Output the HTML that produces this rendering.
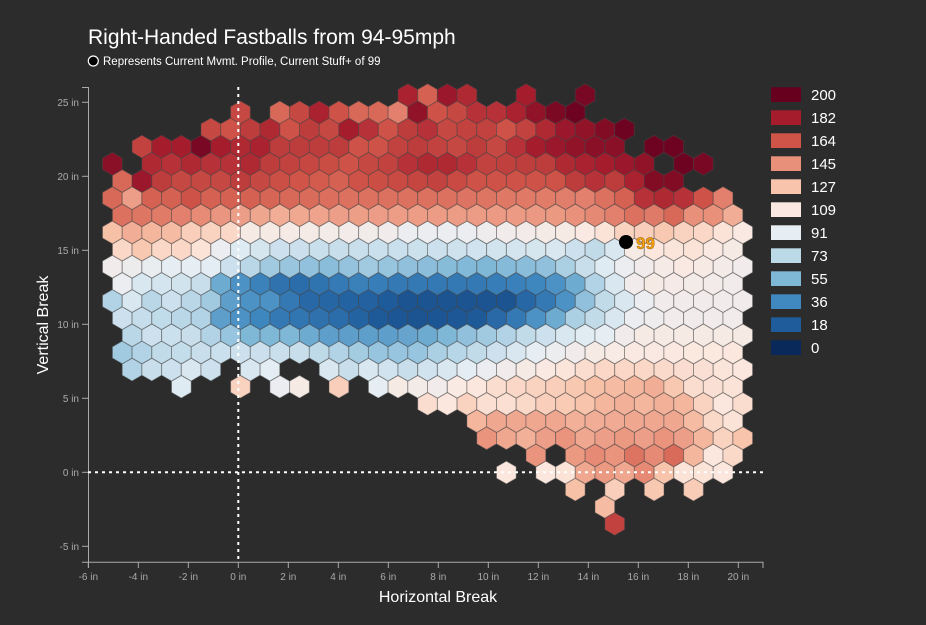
<!DOCTYPE html>
<html><head><meta charset="utf-8"><style>
html,body{margin:0;padding:0;background:#2c2c2c;}
svg{display:block;font-family:"Liberation Sans",Arial,sans-serif;}
</style></head><body>
<svg id="s" width="926" height="625" viewBox="0 0 926 625" xmlns="http://www.w3.org/2000/svg">
<rect width="926" height="625" fill="#2c2c2c"/>
<g id="hex"></g>
<g id="axes" fill="#aaaaaa" font-size="10"></g>
<line x1="238.3" y1="87" x2="238.3" y2="562" stroke="#fff" stroke-width="2" stroke-dasharray="3,4"/>
<line x1="88" y1="472.3" x2="763" y2="472.3" stroke="#fff" stroke-width="2" stroke-dasharray="3,4"/>
<text x="88" y="44" fill="#fff" font-size="21">Right-Handed Fastballs from 94-95mph</text>
<circle cx="93.3" cy="61" r="5" fill="#000" stroke="#fff" stroke-width="1.2"/>
<text x="103" y="65" fill="#fff" font-size="11.5">Represents Current Mvmt. Profile, Current Stuff+ of 99</text>
<text x="438" y="602" fill="#fff" font-size="16" text-anchor="middle">Horizontal Break</text>
<text transform="translate(48,325) rotate(-90)" fill="#fff" font-size="16" text-anchor="middle">Vertical Break</text>
<g id="legend"></g>
<circle cx="626" cy="242" r="7" fill="#000"/>
<text x="636" y="249" fill="#f5a00f" font-size="17" font-weight="bold" stroke="#8a5a00" stroke-width="0.4">99</text>
</svg>
<script>
var stops=[[0,"#08295a"],[18,"#1f5c9c"],[36,"#3f88c0"],[55,"#7fb7d7"],[73,"#bcd9e8"],[91,"#e6eef4"],[109,"#fbe9e1"],[127,"#f8c4ab"],[145,"#e9907a"],[164,"#d05548"],[182,"#a51c2d"],[200,"#67001f"]];
function hx(h){return [parseInt(h.substr(1,2),16),parseInt(h.substr(3,2),16),parseInt(h.substr(5,2),16)];}
function col(v){if(v<=0)return stops[0][1];if(v>=200)return stops[11][1];
for(var i=0;i<11;i++){if(v<=stops[i+1][0]){var t=(v-stops[i][0])/(stops[i+1][0]-stops[i][0]);var a=hx(stops[i][1]),b=hx(stops[i+1][1]);
return "rgb("+a.map(function(x,k){return Math.round(x+(b[k]-x)*t)}).join(",")+")";}}}
var R={
22:[[[8,11],[14,14],[17,17]],{8:180,9:160,10:185,11:178,14:182,17:195}],
21:[[[0,0],[2,17]],{0:168,2:158,3:168,4:180,5:165,6:158,7:158,8:150,9:188,10:165,11:168,12:175,13:175,14:180,15:188,16:194,17:198}],
20:[[[-2,19]],{"-2":168,"-1":165,0:172,1:178,2:165,3:172,4:168,5:182,6:175,7:165,8:172,9:175,10:168,11:170,12:170,13:165,14:170,15:178,16:185,17:188,18:192,19:198}],
19:[[[-5,19],[21,22]],{"-5":170,"-4":182,"-3":182,"-2":195,"-1":182,0:178,1:180,2:172,5:172,6:165,7:165,8:170,9:172,10:170,11:168,12:172,13:168,14:175,15:182,16:185,17:188,18:190,19:190,21:198,22:198}],
18:[[[-7,-7],[-5,20],[22,23]],{"-7":190,"-5":178,"-4":175,"-3":178,"-2":175,"-1":175,0:178,1:172,2:170,5:165,6:168,7:170,8:175,9:178,10:178,11:175,12:170,15:172,16:178,17:180,18:182,19:185,20:188,22:198,23:195}],
17:[[[-6,22]],{"-6":158,"-5":185,"-4":172,"-3":168,"-1":168,0:172,1:168,5:160,6:165,10:170,12:165,16:165,17:172,18:175,19:172,20:180,21:192,22:192}],
16:[[[-7,24]],{"-7":158,"-6":140,"-5":160,"-4":160,"-3":165,"-2":160,0:160,5:155,10:155,17:150,18:155,19:160,20:175,21:178,22:175,23:165,24:150}],
15:[[[-6,25]],{"-6":155,"-3":150,0:140,2:135,5:140,16:142,19:150,20:155,21:152,22:158,23:145,24:145,25:135}],
14:[[[-7,25]],{"-7":128,"-6":135,"-5":132,"-4":130,"-3":122,"-2":120,"-1":118,0:105,1:105,7:100,8:95,11:95,13:100,16:105,18:112,19:120,20:122,21:125,22:120,23:118,24:112,25:108}],
13:[[[-6,25]],{"-6":118,"-5":125,"-4":118,"-3":118,"-2":112,"-1":95,0:88,2:80,5:78,10:80,16:85,17:80,18:75,19:85,20:105,21:110,23:112,25:105}],
12:[[[-7,25]],{"-7":100,"-4":92,"-2":90,"-1":80,0:72,1:65,4:58,6:65,8:60,12:55,15:60,16:68,17:78,18:88,19:95,20:100,22:108,25:100}],
11:[[[-6,25]],{"-6":95,"-5":85,"-3":82,"-2":78,"-1":55,0:45,2:32,3:30,6:38,8:35,12:35,15:40,16:45,17:55,18:70,19:85,20:100,21:105,25:100}],
10:[[[-7,25]],{"-7":70,"-6":85,"-5":72,"-4":80,"-3":72,"-2":65,"-1":50,0:45,1:45,2:35,3:28,6:25,8:20,13:20,15:35,16:45,17:60,18:75,19:85,20:95,21:100,25:100}],
9:[[[-6,25]],{"-6":80,"-3":72,"-2":70,"-1":50,0:45,2:35,5:30,7:22,9:20,12:22,14:35,15:45,16:55,17:68,18:75,19:85,20:95,22:100,25:100}],
8:[[[-6,25]],{"-6":72,"-5":80,"-3":78,"-2":70,"-1":62,0:55,2:55,4:45,7:45,9:50,10:55,12:65,14:75,15:80,16:85,18:92,19:100,20:105,25:105}],
7:[[[-6,25]],{"-6":65,"-4":75,"-2":78,0:80,3:78,5:70,7:62,9:62,10:68,12:75,13:80,14:85,15:92,17:100,18:105,20:108,25:110}],
6:[[[-6,-2],[0,1],[4,25]],{"-6":70,"-5":78,"-4":80,"-3":85,"-2":80,0:85,1:90,4:85,5:78,6:85,8:78,10:85,11:90,12:95,13:100,14:105,15:108,17:115,18:118,20:118,25:110}],
5:[[[-3,-3],[0,0],[2,3],[5,5],[7,25]],{"-3":88,0:120,2:95,3:105,5:122,7:92,8:105,10:100,11:107,12:110,13:115,14:118,15:120,16:122,17:125,18:128,19:130,20:132,21:135,22:125,23:115,25:112}],
4:[[[9,25]],{9:115,10:118,11:128,12:122,13:122,14:125,15:130,16:132,17:135,18:140,19:142,20:140,21:142,22:140,23:128,24:118,25:115}],
3:[[[12,25]],{12:140,13:145,16:145,17:142,20:145,22:145,23:138,24:125,25:120}],
2:[[[12,25]],{12:152,13:145,14:142,15:148,16:152,17:145,18:148,19:150,20:148,21:152,22:148,23:140,24:128,25:135}],
1:[[[15,15],[17,25]],{15:152,17:150,18:155,19:152,20:162,21:155,22:165,23:140,24:110,25:125}],
0:[[[13,13],[15,24]],{13:118,15:110,16:112,17:145,18:150,19:145,20:155,21:135,22:120,23:112,24:110}],
"-1":[[[17,17],[19,19],[21,21],[23,23]],{17:128,19:122,21:125,23:123}],
"-2":[[[18,18]],{18:130}],
"-3":[[[19,19]],{19:170}]
};
function val(a,c){var ks=Object.keys(a).map(Number).sort(function(x,y){return x-y});
if(c<=ks[0])return a[ks[0]];if(c>=ks[ks.length-1])return a[ks[ks.length-1]];
for(var i=0;i<ks.length-1;i++){if(c>=ks[i]&&c<=ks[i+1]){var t=(c-ks[i])/(ks[i+1]-ks[i]);return a[ks[i]]+(a[ks[i+1]]-a[ks[i]])*t;}}}
var w=19.7,r=w/Math.sqrt(3),h="";
for(var jk in R){var j=+jk,row=R[jk],y=472.5-17.15*j,odd=Math.abs(j)%2==1;
row[0].forEach(function(rg){for(var c=rg[0];c<=rg[1];c++){var x=240.4+w*(c+(odd?0:0.5));
var v=val(row[1],c);
if(j<=4&&j>=0&&v>115)v-=8;
if(j>=9&&j<=11&&v<60)v-=5;
var p=[[0,-r],[w/2,-r/2],[w/2,r/2],[0,r],[-w/2,r/2],[-w/2,-r/2]].map(function(q){return (x+q[0]).toFixed(1)+","+(y+q[1]).toFixed(1)}).join(" ");
h+='<polygon points="'+p+'" fill="'+col(v)+'" stroke="rgba(70,70,70,0.45)" stroke-width="1"/>';}});}
document.getElementById("hex").innerHTML=h;
var a='<path d="M82,87.5H88.5V562.3H82" fill="none" stroke="#aaa"/><path d="M88.5,568V562.3H763V568" fill="none" stroke="#aaa"/>';
for(var i=-6;i<=20;i+=2){var x=238.3+25*i;a+='<line x1="'+x+'" y1="562" x2="'+x+'" y2="568" stroke="#aaa"/><text x="'+x+'" y="580" text-anchor="middle">'+i+' in</text>';}
for(var v=-5;v<=25;v+=5){var y=472.3-14.8*v;a+='<line x1="82" y1="'+y+'" x2="88" y2="'+y+'" stroke="#aaa"/><text x="79" y="'+(y+3.5)+'" text-anchor="end">'+v+' in</text>';}
document.getElementById("axes").innerHTML=a;
var L=[[200,"#67001f"],[182,"#a51c2d"],[164,"#d05548"],[145,"#e9907a"],[127,"#f8c4ab"],[109,"#fbe9e1"],[91,"#e6eef4"],[73,"#bcd9e8"],[55,"#7fb7d7"],[36,"#3f88c0"],[18,"#1f5c9c"],[0,"#08295a"]],l="";
L.forEach(function(e,i){var y=87.3+23*i;l+='<rect x="771" y="'+y+'" width="30" height="14.7" fill="'+e[1]+'"/><text x="811" y="'+(y+12.5)+'" fill="#fff" font-size="15">'+e[0]+'</text>';});
document.getElementById("legend").innerHTML=l;
</script>
</body></html>
